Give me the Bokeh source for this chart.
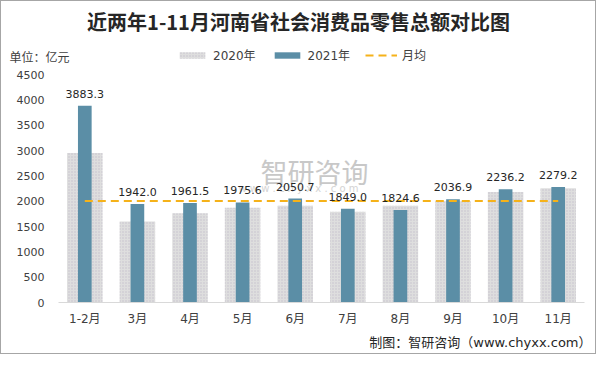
from bokeh.plotting import figure
from bokeh.layouts import column
from bokeh.models import ColumnDataSource, Range1d, FactorRange, LabelSet, Label, Legend, LegendItem
from bokeh.core.properties import value
from bokeh.embed import file_html
from bokeh.resources import INLINE

categories = ["1-2月", "3月", "4月", "5月", "6月", "7月", "8月", "9月", "10月", "11月"]
v2020 = [2950, 1600, 1760, 1870, 1910, 1790, 1910, 2000, 2180, 2255]
v2021 = [3883.3, 1942.0, 1961.5, 1975.6, 2050.7, 1849.0, 1824.6, 2036.9, 2236.2, 2279.2]
monthly_avg = 2003.5
y_ticks = [0, 500, 1000, 1500, 2000, 2500, 3000, 3500, 4000, 4500]

title_text = "近两年1-11月河南省社会消费品零售总额对比图"
unit_text = "单位：亿元"
source_text = "制图：智研咨询（www.chyxx.com）"
series_names = ["2020年", "2021年", "月均"]

FONT = "DejaVu Sans, Noto Sans CJK SC"
CJK = "Noto Sans CJK SC"
TXT = "#404040"
C2020 = "#dedede"
C2021 = "#5b8ea6"
CAVG = "#f5b21a"

W = 594
TOP_H = 64
MAIN_H = 266
BOT_H = 22
FL, FR, FT, FB = 57, 11, 9, 29   # main figure borders
FRAME_W = W - FL - FR
FRAME_H = MAIN_H - FT - FB

src = ColumnDataSource(dict(
    cat=categories, v2020=v2020, v2021=v2021,
    lab=[f"{v:.1f}" for v in v2021],
))

def plain(fig):
    fig.outline_line_color = None
    fig.background_fill_color = "white"
    fig.border_fill_color = "white"
    fig.xgrid.visible = False
    fig.ygrid.visible = False
    if "frame_align" in fig.properties():
        fig.frame_align = False

BAR20 = dict(fill_color=C2020, line_color=None, hatch_pattern="dot", hatch_color="#c6c0cc",
             hatch_scale=3, hatch_weight=1)
BAR21 = dict(fill_color=C2021, line_color=None)
AVG = dict(line_color=CAVG, line_width=2, line_dash="8 5")

# ---------- header (title, unit, legend) ----------
top = figure(width=W, height=TOP_H, x_range=FactorRange(*categories, range_padding=0),
             y_range=Range1d(TOP_H, 0), x_axis_type=None, y_axis_type=None,
             output_backend="svg", toolbar_location=None, min_border=0)
plain(top)
ux = len(categories) / W   # header: page px -> categorical units
top.add_layout(Label(x=297 * ux, y=20, text=title_text, text_font=CJK,
                     text_font_size="20px", text_font_style="bold", text_color="#262626",
                     text_align="center", text_baseline="middle"))
top.add_layout(Label(x=8 * ux, y=55, text=unit_text, text_font=CJK,
                     text_font_size="12px", text_color=TXT, text_align="left",
                     text_baseline="middle"))
# legend-only renderers (hidden; same data as the chart)
la = top.vbar(x="cat", top="v2020", width=0.675, source=src, visible=False, **BAR20)
lb = top.vbar(x="cat", top="v2021", width=0.26, source=src, visible=False, **BAR21)
lc = top.line(x=[categories[0], categories[-1]], y=[monthly_avg, monthly_avg],
              visible=False, **AVG)
legend = Legend(items=[LegendItem(label=series_names[0], renderers=[la]),
                       LegendItem(label=series_names[1], renderers=[lb]),
                       LegendItem(label=series_names[2], renderers=[lc])],
                orientation="horizontal", location=(175, 2),
                glyph_width=32, glyph_height=8, label_standoff=5, spacing=15,
                padding=0, margin=0, border_line_color=None, background_fill_alpha=0,
                inactive_fill_alpha=0,
                label_text_font=FONT, label_text_font_size="12px", label_text_color=TXT,
                label_height=14)
top.add_layout(legend)

# ---------- main chart ----------
p = figure(width=W, height=MAIN_H, x_range=FactorRange(*categories, range_padding=0),
           y_range=Range1d(0, 4500), output_backend="svg", toolbar_location=None,
           min_border_left=FL, min_border_right=FR, min_border_top=FT, min_border_bottom=FB)
plain(p)

px_x = FRAME_W / len(categories)
px_y = FRAME_H / 4500.0
frame_bottom_in_page = TOP_H + FT + FRAME_H

def wx(x_page):
    return (x_page - FL) / px_x

def wy(y_page):
    return (frame_bottom_in_page - y_page) / px_y

# watermark
p.add_layout(Label(x=wx(259), y=wy(170), text="智研咨询",
                   text_font=CJK, text_font_size="27px", text_color="#c8c8c8",
                   text_baseline="middle", text_align="left", level="underlay"))
p.add_layout(Label(x=wx(237), y=wy(187),
                   text="w w w . c h y x x . c o m", text_font=FONT,
                   text_font_size="10px", text_color="#d4d4d4", text_baseline="middle",
                   text_align="left", level="underlay"))

p.vbar(x="cat", top="v2020", width=0.675, source=src, **BAR20)
p.vbar(x="cat", top="v2021", width=0.26, source=src, **BAR21)
p.line(x=[categories[0], categories[-1]], y=[monthly_avg, monthly_avg], **AVG)

labels = LabelSet(x="cat", y="v2021", text="lab", source=src, text_align="center",
                  text_baseline="alphabetic", y_offset=8, text_font=value(FONT),
                  text_font_size=value("11px"), text_color="#262626")
p.add_layout(labels)

p.yaxis.ticker = y_ticks
p.yaxis.axis_line_color = None
p.yaxis.major_tick_line_color = None
p.yaxis.minor_tick_line_color = None
p.yaxis.major_tick_out = 0
p.yaxis.major_label_standoff = 14
p.yaxis.major_label_text_font = FONT
p.yaxis.major_label_text_font_size = "11px"
p.yaxis.major_label_text_color = TXT

p.xaxis.axis_line_color = "#d9d9d9"
p.xaxis.major_tick_line_color = None
p.xaxis.major_tick_out = 0
p.xaxis.major_label_standoff = 9
p.xaxis.major_label_text_font = FONT
p.xaxis.major_label_text_font_size = "12px"
p.xaxis.major_label_text_color = TXT

# ---------- footer ----------
bot = figure(width=W, height=BOT_H, x_range=Range1d(0, W), y_range=Range1d(BOT_H, 0),
             x_axis_type=None, y_axis_type=None, output_backend="svg", toolbar_location=None,
             min_border=0)
plain(bot)
bot.add_layout(Label(x=590, y=11, text=source_text, text_font=FONT,
                     text_font_size="13px", text_color="#262626", text_align="right",
                     text_baseline="middle"))

layout = column(top, p, bot, spacing=0, styles={"border": "1px solid #a6a6a6"})

open("out.html", "w").write(file_html(layout, INLINE))
